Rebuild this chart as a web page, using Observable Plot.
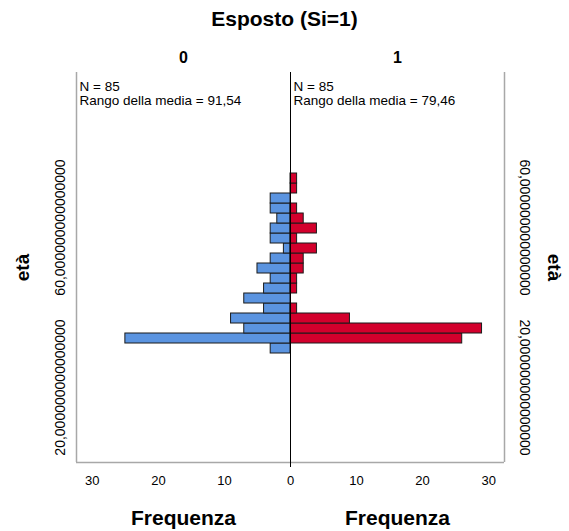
<!DOCTYPE html>
<html>
<head>
<meta charset="utf-8">
<script src="https://cdn.jsdelivr.net/npm/d3@7"></script>
<script src="https://cdn.jsdelivr.net/npm/@observablehq/plot@0.6"></script>
<style>
  body { margin: 0; background: #fff; }
  svg { font-family: "Liberation Sans", Arial, sans-serif; }
</style>
</head>
<body>
<div id="chart"></div>
<script>
// Age classes (lower edge, in years); every class is 2.5 years wide
const binStart = [28.5, 31, 33.5, 36, 38.5, 41, 43.5, 46, 48.5, 51, 53.5, 56, 58.5, 61, 63.5, 66, 68.5, 71];
const binWidth = 2.5;

// Frequencies per age class, for the two exposure groups
const counts0 = [3, 25, 7, 9, 4, 7, 4, 3, 5, 3, 1, 3, 3, 2, 3, 3, 0, 0];
const counts1 = [0, 26, 29, 9, 1, 0, 1, 1, 2, 2, 4, 1, 4, 2, 1, 0, 1, 1];

const groupNames = ["0", "1"];
const groupN = [85, 85];
const meanRanks = ["91,54", "79,46"];

const freqTicks = [-30, -20, -10, 0, 10, 20, 30];
const ageTicks = [20, 60];
const ageTickLabels = ["20,000000000000000", "60,000000000000000"];

const title = "Esposto (Si=1)";
const xLabel = "Frequenza";
const yLabel = "età";

const blue = "#5b94e0";
const red = "#d3002c";

const xMax = 32.4;
const yDomain = [1.25, 98.75];

const left = binStart.map((lo, i) => ({lo, hi: lo + binWidth, v: -counts0[i]})).filter(d => d.v !== 0);
const right = binStart.map((lo, i) => ({lo, hi: lo + binWidth, v: counts1[i]})).filter(d => d.v !== 0);

const panelCenters = [-xMax / 2, xMax / 2];
const infoText = groupN.map((n, i) => `N = ${n}\nRango della media = ${meanRanks[i]}`);

const mid = {textAnchor: "middle", lineAnchor: "middle"};

const chart = Plot.plot({
  width: 569,
  height: 531,
  marginLeft: 76,
  marginRight: 65,
  marginTop: 72,
  marginBottom: 69,
  x: {domain: [-xMax, xMax], axis: null},
  y: {domain: yDomain, axis: null},
  style: {fontFamily: "'Liberation Sans', Arial, sans-serif", fontSize: "13px", background: "#fff", color: "#000"},
  marks: [
    // population pyramid bars
    Plot.rect(left, {x1: 0, x2: "v", y1: "lo", y2: "hi", fill: blue, stroke: "#1b1b1b", strokeWidth: 1}),
    Plot.rect(right, {x1: 0, x2: "v", y1: "lo", y2: "hi", fill: red, stroke: "#1b1b1b", strokeWidth: 1}),
    // outer frame (sides and bottom)
    Plot.ruleX([-xMax, xMax], {stroke: "#a8a8a8", strokeWidth: 1.5}),
    Plot.ruleY([yDomain[0]], {stroke: "#a8a8a8", strokeWidth: 1.5}),
    // central divider, with its tick below the frame
    Plot.ruleX([0], {stroke: "#000", strokeWidth: 1, insetBottom: -5}),
    // frequency tick labels
    Plot.text(freqTicks, {x: d => d, frameAnchor: "bottom", dy: 18, text: d => String(Math.abs(d)), fontSize: 13, ...mid}),
    // age tick labels on both sides
    Plot.text(ageTicks, {y: d => d, frameAnchor: "left", dx: -16, rotate: -90, text: (d, i) => ageTickLabels[i], fontSize: 14, ...mid}),
    Plot.text(ageTicks, {y: d => d, frameAnchor: "right", dx: 20, rotate: 90, text: (d, i) => ageTickLabels[i], fontSize: 14, ...mid}),
    // group statistics
    Plot.text(infoText, {x: (d, i) => i === 0 ? -xMax : 0, frameAnchor: "top", dx: 3, dy: 9, textAnchor: "start", lineAnchor: "top", lineHeight: 1.0, fontSize: 13.5}),
    // title and panel headers
    Plot.text([title], {frameAnchor: "top", dx: -6, dy: -53, fontSize: 21, fontWeight: "bold", ...mid}),
    Plot.text(groupNames, {x: (d, i) => panelCenters[i], frameAnchor: "top", dy: -15, fontSize: 16, fontWeight: "bold", ...mid}),
    // axis titles
    Plot.text(groupNames, {x: (d, i) => panelCenters[i], frameAnchor: "bottom", dy: 56, text: () => xLabel, fontSize: 21, fontWeight: "bold", ...mid}),
    Plot.text([yLabel], {frameAnchor: "left", dx: -54, rotate: -90, fontSize: 19, fontWeight: "bold", ...mid}),
    Plot.text([yLabel], {frameAnchor: "right", dx: 50, rotate: 90, fontSize: 19, fontWeight: "bold", ...mid})
  ]
});

document.getElementById("chart").appendChild(chart);
</script>
</body>
</html>
